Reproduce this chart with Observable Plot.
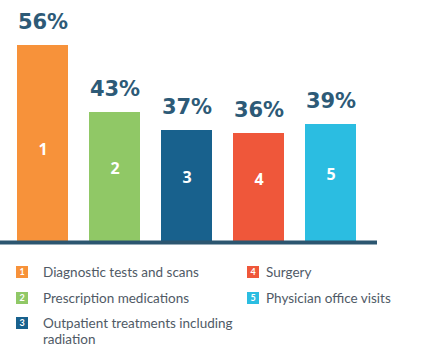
<!DOCTYPE html>
<html>
<head>
<meta charset="utf-8">
<script src="https://cdn.jsdelivr.net/npm/d3@7"></script>
<script src="https://cdn.jsdelivr.net/npm/@observablehq/plot@0.6"></script>
<style>
  body { margin: 0; background: #fff; }
  #wrap { position: relative; width: 426px; height: 360px; overflow: hidden; font-family: Lato, "Open Sans", sans-serif; }
  #chart svg { display: block; }
  .item { position: absolute; display: flex; align-items: flex-start; font-size: 13.5px; color: #505a66; line-height: 16px; }
  .sw { width: 12px; height: 12px; margin-top: 2px; color: #fff; font-size: 9px; font-weight: 700; text-align: center; line-height: 12px; flex: none; }
  .txt { margin-left: 15px; }
</style>
</head>
<body>
<div id="wrap">
  <div id="chart"></div>
  <div id="legend"></div>
</div>
<script>
const ids = ["1", "2", "3", "4", "5"];
const categories = ["Diagnostic tests and scans", "Prescription medications", "Outpatient treatments including radiation", "Surgery", "Physician office visits"];
const values = [56, 43, 37, 36, 39];
const colors = ["#F7923A", "#90C866", "#18618D", "#EF573A", "#2BBDE1"];

const data = ids.map((id, i) => ({id, name: categories[i], value: values[i], color: colors[i]}));

const plot = Plot.plot({
  width: 426,
  height: 252,
  marginLeft: 15,
  marginRight: 68,
  marginTop: 0,
  marginBottom: 0,
  x: {domain: ids, paddingInner: 0.29, paddingOuter: 0, axis: null},
  y: {type: "linear", domain: [0, 43, 56], range: [241, 112, 45], axis: null},
  marks: [
    Plot.barY(data, {x: "id", y: "value", fill: "color"}),
    Plot.ruleY([0], {stroke: "#2C5670", strokeWidth: 4, insetLeft: -15, insetRight: -19, dy: 1}),
    Plot.text(data, {x: "id", y: "value", text: d => d.value + "%", lineAnchor: "bottom", dy: -17, fill: "#2D5A77", fontSize: 21, fontWeight: 700, fontFamily: "'DejaVu Sans', sans-serif"}),
    Plot.text(data, {x: "id", y: d => d.value / 2, text: "id", dy: -8, fill: "#fff", fontSize: 16, fontWeight: 700, fontFamily: "'Open Sans', sans-serif"})
  ]
});
document.getElementById("chart").appendChild(plot);

const pos = [
  {left: 16, top: 264, gap: 15},
  {left: 16, top: 290, gap: 15},
  {left: 16, top: 315, gap: 15},
  {left: 247, top: 264, gap: 7},
  {left: 247, top: 290, gap: 7}
];
const legend = document.getElementById("legend");
data.forEach((d, i) => {
  const it = document.createElement("div");
  it.className = "item";
  it.style.left = pos[i].left + "px";
  it.style.top = pos[i].top + "px";
  if (i === 2) it.style.width = "225px";
  const sw = document.createElement("div");
  sw.className = "sw";
  sw.style.background = d.color;
  sw.textContent = d.id;
  const t = document.createElement("div");
  t.className = "txt";
  t.style.marginLeft = pos[i].gap + "px";
  t.textContent = d.name;
  it.appendChild(sw);
  it.appendChild(t);
  legend.appendChild(it);
});
</script>
</body>
</html>
